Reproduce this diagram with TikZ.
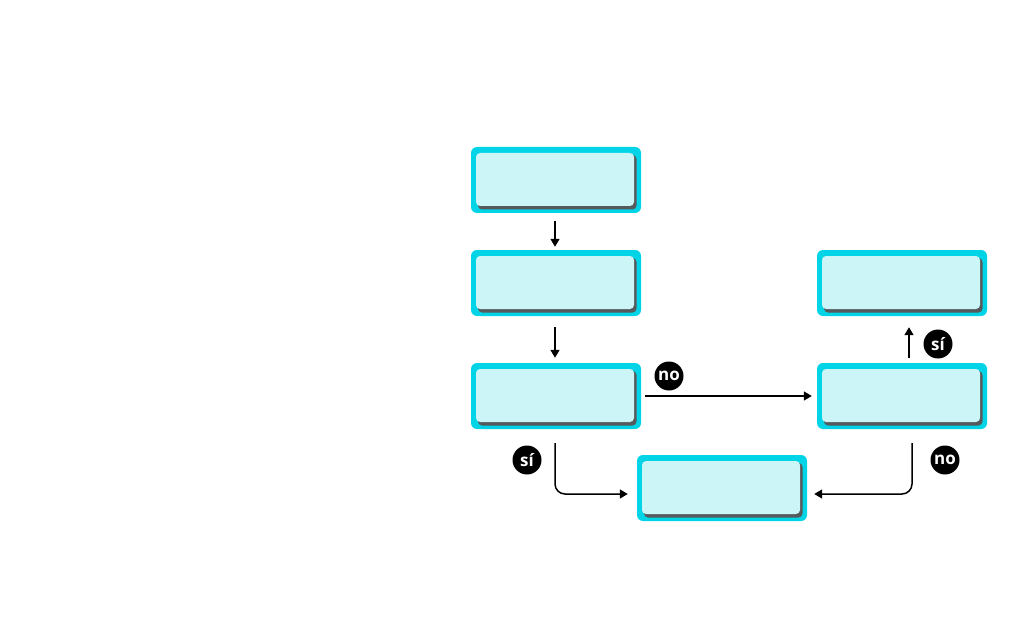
\documentclass[tikz,border=0pt]{standalone}
\usepackage{fontspec}
\setmainfont{Open Sans}
\usetikzlibrary{calc,arrows.meta}
\definecolor{cyanb}{HTML}{00D4E6}
\definecolor{lightc}{HTML}{CCF5F7}
\definecolor{shadowc}{HTML}{555A5C}
\tikzset{
  box/.style={rectangle, rounded corners=6pt, fill=cyanb, minimum width=170pt, minimum height=66pt, inner sep=0pt,
    path picture={
      \fill[shadowc, rounded corners=4pt] ([xshift=7pt,yshift=-8pt]path picture bounding box.north west) rectangle ([xshift=-4.5pt,yshift=3.5pt]path picture bounding box.south east);
      \fill[lightc, rounded corners=4pt] ([xshift=5pt,yshift=-6pt]path picture bounding box.north west) rectangle ([xshift=-7pt,yshift=7pt]path picture bounding box.south east);
    }},
  arr/.style={line width=1.5pt, -{Triangle[length=8pt,width=9pt]}},
  lab/.style={circle, fill=black, minimum size=29pt, inner sep=0pt, text=white, font=\bfseries\fontsize{17}{17}\selectfont}
}
\begin{document}
\begin{tikzpicture}[x=1pt,y=-1pt]
\useasboundingbox (0,0) rectangle (1024,620);
\node[box] (b1) at (556,180) {};
\node[box] (b2) at (556,283) {};
\node[box] (b3) at (556,396) {};
\node[box] (b4) at (902,283) {};
\node[box] (b5) at (902,396) {};
\node[box] (b6) at (722,488) {};
\node[lab] (l1) at (669,376) {no};
\node[lab] (l2) at (527,460) {sí};
\node[lab] (l3) at (938,344) {sí};
\node[lab] (l4) at (945,460) {no};
\draw[arr] ($(b1.south)+(-1,8)$) -- ($(b2.north)+(-1,-3)$);
\draw[arr] ($(b2.south)+(-1,11)$) -- ($(b3.north)+(-1,-5)$);
\draw[arr] ($(b3.east)+(4,0)$) -- ($(b5.west)+(-5,0)$);
\draw[arr] ($(b5.north)+(7,-5)$) -- ($(b4.south)+(7,11)$);
\draw[arr, rounded corners=10pt] ($(b3.south)+(-1,14)$) |- ($(b6.west)+(-9,6)$);
\draw[arr, rounded corners=10pt] ($(b5.south)+(10,14)$) |- ($(b6.east)+(7,6)$);
\end{tikzpicture}
\end{document}
